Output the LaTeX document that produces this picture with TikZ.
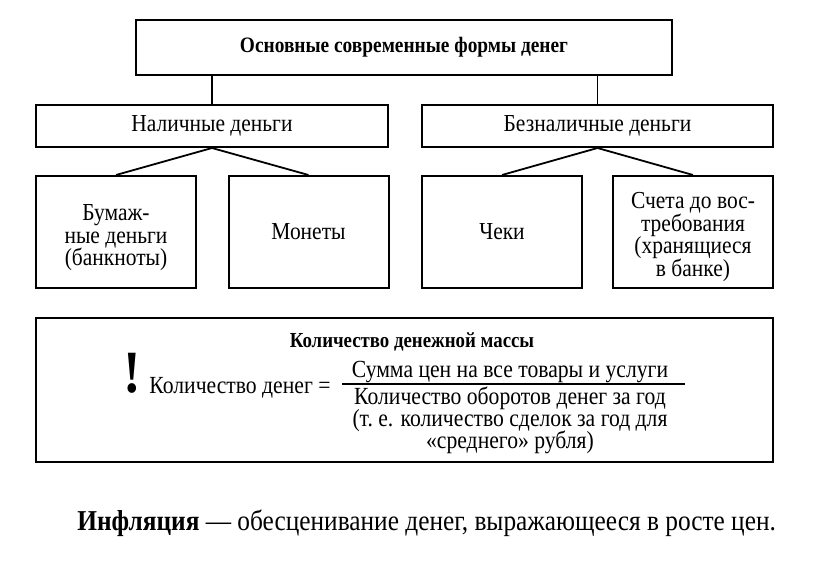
\documentclass[tikz,border=0pt]{standalone}
\usepackage{fontspec}
\setmainfont{Liberation Serif}[FakeStretch=0.88]
\newcommand\tightlines{\lineskiplimit=-8pt\relax}
\begin{document}
\begin{tikzpicture}[x=0.5pt,y=-0.5pt,
  box/.style={draw,line width=1pt,align=center,inner sep=0pt,font=\fontsize{12.2}{11.25}\selectfont},
  link/.style={line width=0.9pt},
  txt/.style={inner sep=0pt,font=\fontsize{12.3}{11}\selectfont\tightlines}]
\useasboundingbox (0,0) rectangle (816,578);
\node[box,minimum width=268pt,minimum height=27.5pt,font=\bfseries\fontsize{11}{11}\selectfont] (forms) at (404,47.5) {Основные современные формы денег};
\node[box,minimum width=176pt,minimum height=21pt] (cash) at (212,126) {Наличные деньги};
\node[box,minimum width=175.5pt,minimum height=21pt] (noncash) at (597.5,126) {Безналичные деньги};
\node[box,minimum width=80pt,minimum height=56pt] (paper) at (116,232) {};
\node[box,minimum width=80pt,minimum height=56pt] (coins) at (308.5,232) {Монеты};
\node[box,minimum width=80pt,minimum height=56pt] (cheques) at (502,232) {Чеки};
\node[box,minimum width=80pt,minimum height=56pt] (deposits) at (693,232) {};
\node[txt,align=center,font=\fontsize{12.2}{11.25}\selectfont\tightlines] (papertext) at (116,238) {Бумаж-\\ные деньги\\(банкноты)};
\node[txt,align=center,font=\fontsize{12.2}{11.25}\selectfont\tightlines] (depositstext) at (693,237) {Счета до вос-\\требования\\(хранящиеся\\в банке)};
\draw[link] (forms.south -| cash.north) -- (cash.north);
\draw[link] (forms.south -| noncash.north) -- (noncash.north);
\draw[link] (cash.south) -- (paper.north);
\draw[link] (cash.south) -- (coins.north);
\draw[link] (noncash.south) -- (cheques.north);
\draw[link] (noncash.south) -- (deposits.north);
\node[box,minimum width=368.5pt,minimum height=72pt] (massbox) at (404.5,390) {};
\node[txt,font=\bfseries\fontsize{10.7}{10.7}\selectfont] (masstitle) at (412,342) {Количество денежной массы};
\node[anchor=base,font=\bfseries\fontsize{30}{30}\selectfont] (excl) at (132,392) {!};
\node[txt] (lhs) at (240,388) {Количество денег =};
\node[txt] (num) at (510,372) {Сумма цен на все товары и услуги};
\node[txt,align=center] (den) at (510,420) {Количество оборотов денег за год\\(т.~е. количество сделок за год для\\«среднего» рубля)};
\coordinate (barl) at (342,384);
\coordinate (barr) at (685,384);
\draw[line width=0.6pt] (barl) -- (barr);
\node[anchor=west,inner sep=0pt,font=\fontsize{14.4}{14.4}\selectfont] (infl) at (77,523) {\textbf{Инфляция} — обесценивание денег, выражающееся в росте цен.};
\end{tikzpicture}
\end{document}
